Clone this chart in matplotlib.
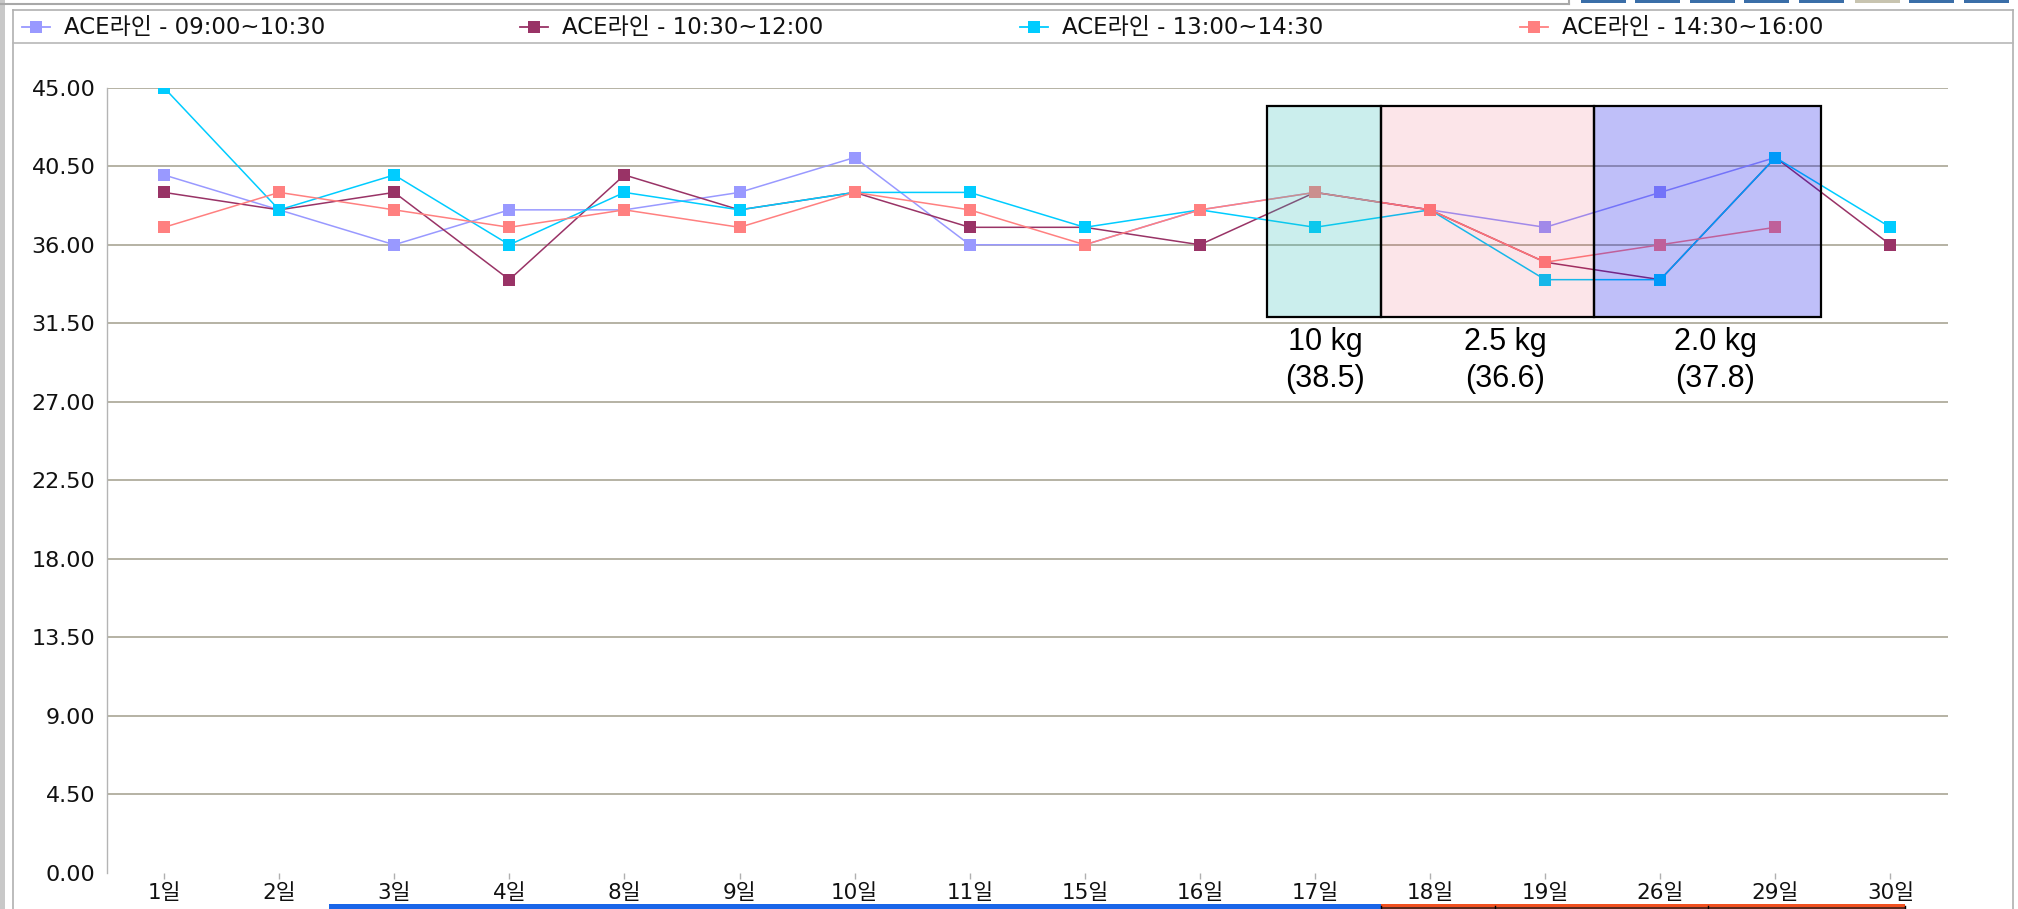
import numpy as np
import matplotlib
matplotlib.use("Agg")
import matplotlib.pyplot as plt
from matplotlib.patches import Rectangle
from matplotlib.lines import Line2D

# ---------------- data ----------------
categories = ['1일', '2일', '3일', '4일', '8일', '9일', '10일', '11일',
              '15일', '16일', '17일', '18일', '19일', '26일', '29일', '30일']
series_names = ['ACE라인 - 09:00~10:30', 'ACE라인 - 10:30~12:00',
                'ACE라인 - 13:00~14:30', 'ACE라인 - 14:30~16:00']
s_0900 = [40, 38, 36, 38, 38, 39, 41, 36, 36, 38, 39, 38, 37, 39, 41, None]
s_1030 = [39, 38, 39, 34, 40, 38, 39, 37, 37, 36, 39, 38, 35, 34, 41, 36]
s_1300 = [45, 38, 40, 36, 39, 38, 39, 39, 37, 38, 37, 38, 34, 34, 41, 37]
s_1430 = [37, 39, 38, 37, 38, 37, 39, 38, 36, 38, 39, 38, 35, 36, 37, None]
yticks = [0.0, 4.5, 9.0, 13.5, 18.0, 22.5, 27.0, 31.5, 36.0, 40.5, 45.0]
box_weights = ['10 kg', '2.5 kg', '2.0 kg']
box_means = ['(38.5)', '(36.6)', '(37.8)']

# ---------------- styles ----------------
colors = ['#9999FF', '#993366', '#00CCFF', '#FF8080']
W, H = 2018, 909
KFONT = ['DejaVu Sans', 'Noto Sans CJK KR']

def fx(x):
    return x / W

def fy(y):
    return 1 - y / H

fig = plt.figure(figsize=(W / 100, H / 100), dpi=100)
fig.patch.set_facecolor('white')

def px_rect(x0, y0, x1, y1, **kw):
    fig.add_artist(Rectangle((fx(x0), fy(y1)), (x1 - x0) / W, (y1 - y0) / H,
                             transform=fig.transFigure, **kw))

def px_line(xs, ys, **kw):
    fig.add_artist(Line2D([fx(v) for v in xs], [fy(v) for v in ys],
                          transform=fig.transFigure, **kw))

# window decoration
px_rect(0, 0, 5, H, facecolor='#C8C8C8', edgecolor='none')
px_line([0, 1569], [4, 4], color='#A8A8A8', lw=1.5)
px_line([1569, 1569], [0, 4], color='#A8A8A8', lw=1.5)
btn_x = [1581, 1635, 1690, 1744, 1799, 1855, 1909, 1964]
for i, bx in enumerate(btn_x):
    px_rect(bx, 0, bx + 45, 3, facecolor=('#C8C4B0' if i == 5 else '#3A6EA8'),
            edgecolor='none')
px_line([13, 2013], [10, 10], color='#B0B0B0', lw=1.2)
px_line([13, 13], [10, H], color='#B0B0B0', lw=1.2)
px_line([2013, 2013], [10, H], color='#B0B0B0', lw=1.2)
px_line([13, 2013], [43, 43], color='#B8B8B8', lw=1.2)

# ---------------- axes ----------------
ax = fig.add_axes([fx(106.5), fy(873), (1948 - 106.5) / W, (873 - 87.7) / H])
ax.set_xlim(-0.5, len(categories) - 0.5)
ax.set_ylim(0, 45)
ax.set_facecolor('none')
for sp in ['top', 'right', 'bottom']:
    ax.spines[sp].set_visible(False)
ax.spines['left'].set_color('#B4B4B4')
ax.spines['left'].set_linewidth(1.0)

ax.set_yticks(yticks)
ax.set_yticklabels([f'{v:.2f}' for v in yticks], fontsize=16,
                   family='DejaVu Sans', color='#111111')
ax.tick_params(axis='y', length=0, pad=8)
ax.yaxis.grid(True, color='#B0AC9D', lw=1.3)
ax.get_ygridlines()[0].set_visible(False)
ax.set_axisbelow(True)

x = np.arange(len(categories))
ax.set_xticks(x)
ax.set_xticklabels(categories, fontsize=15.5, family=KFONT, color='#111111')
ax.tick_params(axis='x', length=4, width=1, color='#B0B0B0', pad=3)

data = [s_0900, s_1030, s_1300, s_1430]
for vals, c, name in zip(data, colors, series_names):
    y = np.array([np.nan if v is None else v for v in vals], dtype=float)
    ax.plot(x, y, color=c, lw=1.1, marker='s', markersize=8,
            markeredgewidth=0, label=name, zorder=3)

# ---------------- highlight boxes ----------------
box_x = [9.583, 10.573, 12.424, 14.396]
box_y0, box_y1 = 31.86, 43.95
box_colors = [('#33BFBB', 0.25), ('#EB052D', 0.10), ('#0303EB', 0.25)]
for i in range(3):
    ax.add_patch(Rectangle((box_x[i], box_y0), box_x[i + 1] - box_x[i],
                           box_y1 - box_y0, facecolor=box_colors[i][0],
                           alpha=box_colors[i][1], edgecolor='none', zorder=4))
    ax.add_patch(Rectangle((box_x[i], box_y0), box_x[i + 1] - box_x[i],
                           box_y1 - box_y0, facecolor='none',
                           edgecolor='black', lw=1.6, zorder=5))

label_cx = [10.087, 11.65, 13.48]
for cx, w, m in zip(label_cx, box_weights, box_means):
    ax.text(cx, 30.45, w, ha='center', va='center', fontsize=22,
            family='Liberation Sans', color='black')
    ax.text(cx, 28.3, m, ha='center', va='center', fontsize=22,
            family='Liberation Sans', color='black')

# ---------------- legend (manual) ----------------
leg_mx = [36, 534, 1034, 1534]
for mx, c, name in zip(leg_mx, colors, series_names):
    px_line([mx - 14, mx + 14], [27, 27], color=c, lw=1.3)
    px_line([mx], [27], color=c, marker='s', markersize=8, markeredgewidth=0)
    fig.text(fx(mx + 28), fy(27), name, fontsize=16.5, family=KFONT,
             va='center', ha='left', color='#111111')

# ---------------- bottom strip ----------------
px_rect(329, 904, 1381, 909, facecolor='#1A66E8', edgecolor='none')
px_rect(1381, 904, 1905, 906.5, facecolor='#F05020', edgecolor='none')
px_rect(1381, 906.5, 1905, 909, facecolor='#5A2A20', edgecolor='none')
for bx in [1381, 1495, 1708, 1905]:
    px_line([bx, bx], [906, 909], color='black', lw=1)

fig.savefig('out.png', dpi=100)
